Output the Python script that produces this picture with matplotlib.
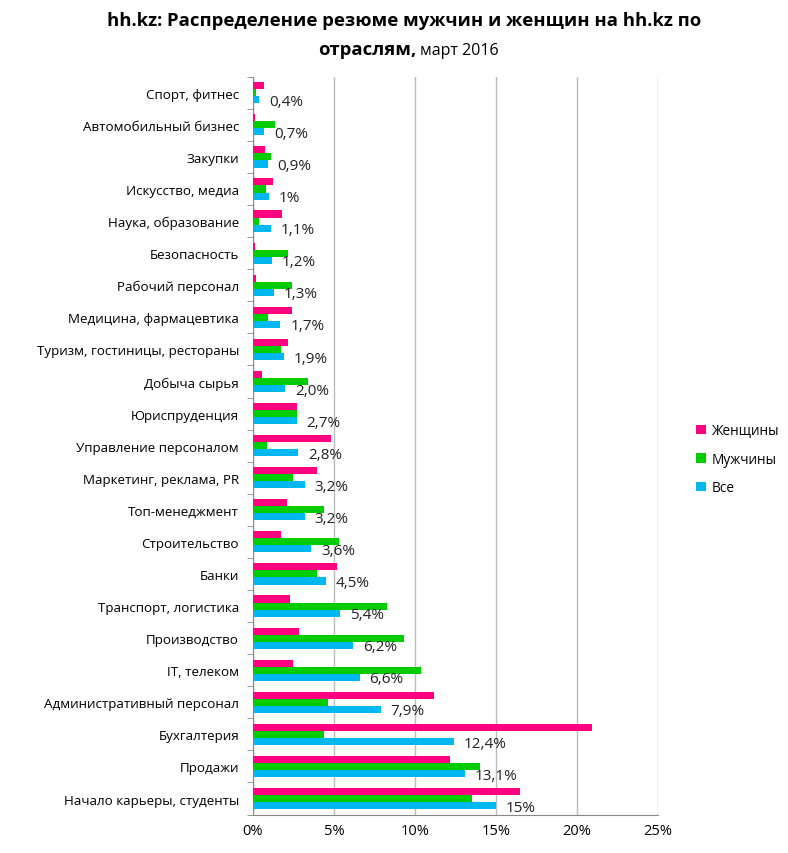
import matplotlib.pyplot as plt
import numpy as np

plt.rcParams['font.family'] = ['Open Sans', 'DejaVu Sans']

categories = ["Спорт, фитнес", "Автомобильный бизнес", "Закупки", "Искусство, медиа",
              "Наука, образование", "Безопасность", "Рабочий персонал",
              "Медицина, фармацевтика", "Туризм, гостиницы, рестораны", "Добыча сырья",
              "Юриспруденция", "Управление персоналом", "Маркетинг, реклама, PR",
              "Топ-менеджмент", "Строительство", "Банки", "Транспорт, логистика",
              "Производство", "IT, телеком", "Административный персонал", "Бухгалтерия",
              "Продажи", "Начало карьеры, студенты"]

women = [0.68, 0.12, 0.72, 1.23, 1.81, 0.14, 0.2, 2.43, 2.14, 0.56, 2.7, 4.81, 3.95,
         2.08, 1.75, 5.19, 2.3, 2.85, 2.45, 11.2, 20.9, 12.15, 16.5]
men = [0.2, 1.34, 1.09, 0.8, 0.37, 2.14, 2.39, 0.95, 1.71, 3.42, 2.7, 0.88, 2.45,
       4.36, 5.29, 3.95, 8.3, 9.35, 10.4, 4.65, 4.4, 14.0, 13.5]
everyone = [0.4, 0.7, 0.9, 1.0, 1.1, 1.2, 1.3, 1.7, 1.9, 2.0, 2.7, 2.8, 3.2, 3.2, 3.6,
            4.5, 5.4, 6.2, 6.6, 7.9, 12.4, 13.1, 15.0]
labels = ["0,4%", "0,7%", "0,9%", "1%", "1,1%", "1,2%", "1,3%", "1,7%", "1,9%", "2,0%",
          "2,7%", "2,8%", "3,2%", "3,2%", "3,6%", "4,5%", "5,4%", "6,2%", "6,6%", "7,9%",
          "12,4%", "13,1%", "15%"]

pink = "#FF0080"
green = "#00CC00"
blue = "#00B8F0"

fig = plt.figure(figsize=(7.88, 8.54), dpi=100)
ax = fig.add_axes([0.321, 0.045, 0.514, 0.864])

y = np.arange(len(categories))
h = 0.22
ax.barh(y - h, women, h, color=pink, label="Женщины", zorder=3)
ax.barh(y, men, h, color=green, label="Мужчины", zorder=3)
ax.barh(y + h, everyone, h, color=blue, label="Все", zorder=3)

for yi, v, lab in zip(y, everyone, labels):
    ax.text(v + 0.6, yi + h + 0.05, lab, va="center", ha="left", fontsize=11, color="#222222")

ax.set_ylim(len(categories) - 0.5, -0.5)
ax.set_xlim(0, 25)
ax.set_xticks(range(0, 26, 5))
ax.set_xticklabels([f"{v}%" for v in range(0, 26, 5)], fontsize=10.5)
ax.set_yticks(y)
ax.set_yticklabels(categories, fontsize=9.6)
ax.set_yticks(np.arange(-0.5, len(categories), 1), minor=True)
ax.tick_params(axis="y", which="major", length=0, pad=10)
ax.tick_params(axis="y", which="minor", length=4, color="#888888")
ax.tick_params(axis="x", length=0, pad=6)
ax.grid(axis="x", color="#BBBBBB", linewidth=1, zorder=0)
for s in ["top", "right"]:
    ax.spines[s].set_visible(False)
for s in ["left", "bottom"]:
    ax.spines[s].set_color("#888888")

handles, hl = ax.get_legend_handles_labels()
fig.legend(handles, hl, loc="center left", bbox_to_anchor=(0.868, 0.461), frameon=False,
           fontsize=9.8, handlelength=0.7, handleheight=0.7, labelspacing=1.0,
           handletextpad=0.4)

fig.text(0.513, 0.975, "hh.kz: Распределение резюме мужчин и женщин на hh.kz по",
         ha="center", va="center", fontsize=13.3, fontweight="bold")
fig.text(0.529, 0.941, "отраслям,", ha="right", va="center", fontsize=13.3, fontweight="bold")
fig.text(0.533, 0.940, "март 2016", ha="left", va="center", fontsize=11.5)

fig.savefig("out.png", dpi=100)
